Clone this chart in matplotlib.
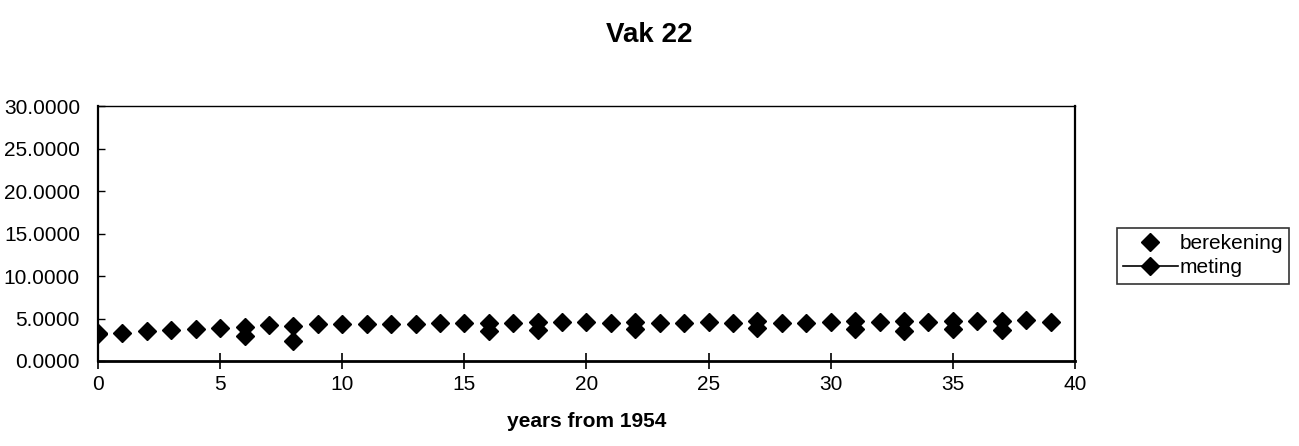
import matplotlib.pyplot as plt
from matplotlib.lines import Line2D
from matplotlib.ticker import FormatStrFormatter

plt.rcParams['font.family'] = ['Liberation Sans', 'DejaVu Sans']

# computed values, one per year
years = list(range(0, 40))
berekening = [3.25, 3.3, 3.5, 3.7, 3.75, 3.9, 4.05, 4.2, 4.15, 4.35,
              4.3, 4.3, 4.35, 4.4, 4.5, 4.5, 4.5, 4.5, 4.6, 4.6,
              4.6, 4.5, 4.6, 4.5, 4.5, 4.6, 4.5, 4.7, 4.5, 4.5,
              4.6, 4.7, 4.6, 4.7, 4.6, 4.7, 4.7, 4.7, 4.8, 4.6]

# measured values
meting_years = [0, 6, 8, 16, 18, 22, 27, 31, 33, 35, 37]
meting = [3.2, 2.9, 2.3, 3.5, 3.7, 3.8, 3.9, 3.8, 3.5, 3.8, 3.7]

MS = 9

fig = plt.figure(figsize=(12.99, 4.46), dpi=100)
ax = fig.add_axes([0.0754, 0.1906, 0.7522, 0.571])

ax.plot(years, berekening, linestyle='none', marker='D', markersize=MS, color='black')
ax.plot(meting_years, meting, linestyle='none', marker='D', markersize=MS, color='black')

ax.set_xlim(0, 40)
ax.set_ylim(0, 30)
ax.set_xticks(range(0, 41, 5))
ax.set_yticks(range(0, 31, 5))
ax.yaxis.set_major_formatter(FormatStrFormatter('%.4f'))
ax.tick_params(axis='x', direction='inout', length=12, width=1.2, pad=4, labelsize=15)
ax.tick_params(axis='y', direction='in', length=5, width=1, pad=13, labelsize=15)

ax.spines['bottom'].set_linewidth(2)
ax.spines['left'].set_linewidth(1.6)
ax.spines['right'].set_linewidth(1.6)
ax.spines['top'].set_linewidth(1)

ax.set_xlabel('years from 1954', fontsize=15, fontweight='bold', labelpad=13)
fig.text(0.5, 0.922, 'Vak 22', ha='center', va='center', fontsize=20, fontweight='bold')

handles = [
    Line2D([], [], linestyle='none', marker='D', markersize=MS, color='black'),
    Line2D([], [], linestyle='-', linewidth=1.2, marker='D', markersize=MS, color='black'),
]
leg = fig.legend(handles, ['berekening', 'meting'], loc='upper left',
                 bbox_to_anchor=(0.860, 0.489), bbox_transform=fig.transFigure,
                 fontsize=15, frameon=True, fancybox=False, handlelength=2.6,
                 handletextpad=0.1, borderpad=0.3, labelspacing=0.25, borderaxespad=0)
leg.get_frame().set_edgecolor('black')
leg.get_frame().set_linewidth(1.2)

fig.savefig('out.png', dpi=100)
